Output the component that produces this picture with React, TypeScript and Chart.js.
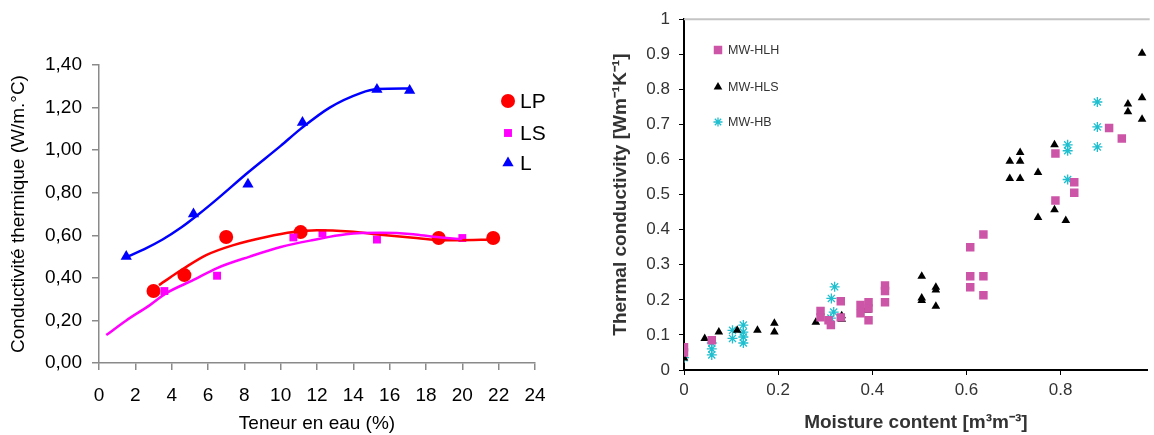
import React, { useEffect, useRef } from 'react';
import { Chart, registerables } from 'chart.js';

Chart.register(...registerables);

const FONT = "'Liberation Sans', Arial, sans-serif";

// ---------- Left chart data ----------
const LP_X = [3.0, 4.7, 7.0, 11.1, 18.7, 21.7];
const LP_Y = [0.338, 0.413, 0.592, 0.615, 0.587, 0.587];
const LS_X = [3.6, 6.5, 10.7, 12.3, 15.3, 20.0];
const LS_Y = [0.338, 0.41, 0.59, 0.61, 0.58, 0.587];
const L_X = [1.5, 5.2, 8.2, 11.2, 15.3, 17.1];
const L_Y = [0.5, 0.7, 0.84, 1.13, 1.285, 1.28];

const LP_FIT_X = [3.3, 4.7, 5.9, 7.4, 9.2, 10.7, 12.0, 13.8, 15.5, 17.3, 18.6, 19.7, 21.7];
const LP_FIT_Y = [0.366, 0.446, 0.507, 0.554, 0.592, 0.615, 0.624, 0.618, 0.603, 0.588, 0.578, 0.577, 0.58];
const LS_FIT_X = [0.4, 1.5, 2.8, 3.7, 5.2, 6.5, 8.3, 10.0, 11.8, 13.6, 15.5, 17.3, 18.4, 20.0];
const LS_FIT_Y = [0.131, 0.2, 0.272, 0.328, 0.39, 0.446, 0.5, 0.545, 0.578, 0.605, 0.612, 0.605, 0.593, 0.582];
const L_FIT_X = [1.5, 2.5, 3.5, 4.5, 5.5, 6.5, 8.2, 10.0, 11.1, 12.7, 14.4, 15.3, 17.1];
const L_FIT_Y = [0.497, 0.535, 0.58, 0.635, 0.7, 0.77, 0.895, 1.02, 1.1, 1.2, 1.268, 1.287, 1.29];

const LEFT_X_TICKS = { min: 0, max: 24, step: 2 };
const LEFT_Y_TICKS = { min: 0, max: 1.4, step: 0.2 };
const LEFT_LEGEND = ['LP', 'LS', 'L'];

// ---------- Right chart data ----------
const HLH_X = [0.0, 0.0, 0.059, 0.29, 0.29, 0.307, 0.312, 0.333, 0.333, 0.375, 0.375, 0.392, 0.392, 0.392, 0.427, 0.427, 0.427, 0.608, 0.636, 0.608, 0.636, 0.608, 0.636, 0.903, 0.93, 0.789, 0.829, 0.829, 0.789];
const HLH_Y = [0.065, 0.05, 0.085, 0.168, 0.15, 0.142, 0.128, 0.196, 0.15, 0.185, 0.162, 0.193, 0.175, 0.142, 0.241, 0.225, 0.193, 0.35, 0.386, 0.267, 0.267, 0.236, 0.213, 0.69, 0.66, 0.617, 0.535, 0.505, 0.483];
const HLS_X = [0.0, 0.044, 0.074, 0.113, 0.156, 0.192, 0.192, 0.28, 0.335, 0.335, 0.39, 0.39, 0.505, 0.535, 0.535, 0.505, 0.505, 0.535, 0.973, 0.973, 0.943, 0.943, 0.973, 0.714, 0.692, 0.714, 0.692, 0.714, 0.752, 0.787, 0.752, 0.787, 0.811];
const HLS_Y = [0.034, 0.09, 0.108, 0.113, 0.113, 0.133, 0.108, 0.136, 0.155, 0.145, 0.178, 0.17, 0.267, 0.236, 0.228, 0.205, 0.198, 0.182, 0.903, 0.776, 0.758, 0.736, 0.715, 0.62, 0.595, 0.595, 0.546, 0.546, 0.563, 0.642, 0.435, 0.457, 0.426];
const HB_X = [0.0, 0.059, 0.059, 0.059, 0.103, 0.103, 0.126, 0.126, 0.126, 0.126, 0.32, 0.313, 0.318, 0.312, 0.878, 0.878, 0.878, 0.815, 0.815, 0.815];
const HB_Y = [0.035, 0.077, 0.06, 0.043, 0.113, 0.09, 0.128, 0.108, 0.094, 0.077, 0.237, 0.204, 0.165, 0.148, 0.764, 0.693, 0.636, 0.642, 0.625, 0.543];

const RIGHT_X_TICKS = { min: 0, max: 0.985, step: 0.2 };
const RIGHT_Y_TICKS = { min: 0, max: 1, step: 0.1 };
const RIGHT_LEGEND = ['MW-HLH', 'MW-HLS', 'MW-HB'];

const pts = (xs: number[], ys: number[]) => xs.map((x, i) => ({ x, y: ys[i] }));

function drawMarker(ctx: CanvasRenderingContext2D, style: string, x: number, y: number, r: number, color: string) {
  ctx.save();
  ctx.fillStyle = color;
  ctx.strokeStyle = color;
  ctx.beginPath();
  if (style === 'circle') {
    ctx.arc(x, y, r, 0, Math.PI * 2);
    ctx.fill();
  } else if (style === 'rect') {
    const s = r * Math.SQRT1_2;
    ctx.rect(x - s, y - s, 2 * s, 2 * s);
    ctx.fill();
  } else if (style === 'triangle') {
    ctx.moveTo(x, y - r);
    ctx.lineTo(x + r * 0.866, y + r / 2);
    ctx.lineTo(x - r * 0.866, y + r / 2);
    ctx.closePath();
    ctx.fill();
  } else if (style === 'star') {
    ctx.lineWidth = 1.3;
    for (let k = 0; k < 4; k++) {
      const a = (k * Math.PI) / 4;
      ctx.moveTo(x + Math.cos(a) * r, y + Math.sin(a) * r);
      ctx.lineTo(x - Math.cos(a) * r, y - Math.sin(a) * r);
    }
    ctx.stroke();
  }
  ctx.restore();
}

const leftLegendPlugin = {
  id: 'leftLegend',
  afterDraw(chart: any) {
    const ctx = chart.ctx;
    const styles = [
      { s: 'circle', c: '#ff0000', r: 7 },
      { s: 'rect', c: '#ff00ff', r: 5.6 },
      { s: 'triangle', c: '#0000ff', r: 6.5 },
    ];
    const ys = [101, 133, 163];
    ctx.save();
    ctx.font = `21px ${FONT}`;
    ctx.fillStyle = '#000';
    ctx.textBaseline = 'middle';
    LEFT_LEGEND.forEach((t, i) => {
      drawMarker(ctx, styles[i].s, 508, ys[i], styles[i].r, styles[i].c);
      ctx.fillText(t, 520, ys[i] + 1);
    });
    ctx.restore();
  },
};

const rightLegendPlugin = {
  id: 'rightLegend',
  afterDraw(chart: any) {
    const ctx = chart.ctx;
    const styles = [
      { s: 'rect', c: '#cc55a8', r: 6 },
      { s: 'triangle', c: '#000000', r: 5 },
      { s: 'star', c: '#1fbfcf', r: 4.5 },
    ];
    const ys = [50, 87, 122];
    ctx.save();
    ctx.font = `12.5px ${FONT}`;
    ctx.fillStyle = '#333';
    ctx.textBaseline = 'middle';
    RIGHT_LEGEND.forEach((t, i) => {
      drawMarker(ctx, styles[i].s, 143, ys[i], styles[i].r, styles[i].c);
      ctx.fillText(t, 153, ys[i] + 1);
    });
    // top border of plot frame
    const a = chart.chartArea;
    ctx.strokeStyle = '#c4c4c4';
    ctx.lineWidth = 2;
    ctx.beginPath();
    ctx.moveTo(a.left, a.top);
    ctx.lineTo(a.right + 2, a.top);
    ctx.stroke();
    ctx.restore();
  },
};

function LeftChart() {
  const ref = useRef<HTMLCanvasElement>(null);
  useEffect(() => {
    const fitLine = (xs: number[], ys: number[], color: string) => ({
      type: 'line' as const,
      data: pts(xs, ys),
      borderColor: color,
      backgroundColor: color,
      borderWidth: 2.5,
      pointRadius: 0,
      showLine: true,
      fill: false,
      cubicInterpolationMode: 'monotone' as const,
    });
    const chart = new Chart(ref.current!, {
      type: 'scatter',
      data: {
        datasets: [
          fitLine(LS_FIT_X, LS_FIT_Y, '#ff00ff'),
          fitLine(LP_FIT_X, LP_FIT_Y, '#ff0000'),
          fitLine(L_FIT_X, L_FIT_Y, '#0000ff'),
          { label: 'LS', data: pts(LS_X, LS_Y), pointStyle: 'rect', pointRadius: 5.6, backgroundColor: '#ff00ff', borderColor: '#ff00ff', borderWidth: 0 },
          { label: 'LP', data: pts(LP_X, LP_Y), pointStyle: 'circle', pointRadius: 7, backgroundColor: '#ff0000', borderColor: '#ff0000', borderWidth: 0 },
          { label: 'L', data: pts(L_X, L_Y), pointStyle: 'triangle', pointRadius: 6.5, backgroundColor: '#0000ff', borderColor: '#0000ff', borderWidth: 0 },
        ] as any,
      },
      options: {
        responsive: false,
        animation: false,
        layout: { padding: { top: 65, right: 40, bottom: 0, left: 0 } },
        plugins: { legend: { display: false }, tooltip: { enabled: false } },
        scales: {
          x: {
            type: 'linear',
            min: LEFT_X_TICKS.min,
            max: LEFT_X_TICKS.max,
            ticks: { stepSize: LEFT_X_TICKS.step, color: '#000', font: { family: FONT, size: 19 }, padding: 14, maxRotation: 0, autoSkip: false },
            grid: { drawOnChartArea: false, tickLength: 7, color: '#8a8a8a', lineWidth: 1.5 },
            border: { color: '#8a8a8a', width: 1.5 },
            title: { display: true, text: 'Teneur en eau (%)', color: '#000', font: { family: FONT, size: 19 }, padding: { top: 0, bottom: 0 } },
            afterFit: (s: any) => { s.height = 72; },
          },
          y: {
            type: 'linear',
            min: LEFT_Y_TICKS.min,
            max: LEFT_Y_TICKS.max,
            ticks: {
              stepSize: LEFT_Y_TICKS.step,
              color: '#000',
              font: { family: FONT, size: 19 },
              padding: 10,
              callback: (v: any) => Number(v).toFixed(2).replace('.', ','),
            },
            grid: { drawOnChartArea: false, tickLength: 7, color: '#8a8a8a', lineWidth: 1.5 },
            border: { color: '#8a8a8a', width: 1.5 },
            title: { display: true, text: 'Conductivité thermique (W/m.°C)', color: '#000', font: { family: FONT, size: 19 }, padding: { top: 7, bottom: 0 } },
            afterFit: (s: any) => { s.width = 99; },
          },
        },
      } as any,
      plugins: [leftLegendPlugin],
    });
    return () => chart.destroy();
  }, []);
  return <canvas ref={ref} width={575} height={435} />;
}

function RightChart() {
  const ref = useRef<HTMLCanvasElement>(null);
  useEffect(() => {
    const chart = new Chart(ref.current!, {
      type: 'scatter',
      data: {
        datasets: [
          { label: 'MW-HLH', data: pts(HLH_X, HLH_Y), pointStyle: 'rect', pointRadius: 6, backgroundColor: '#cc55a8', borderColor: '#cc55a8', borderWidth: 0 },
          { label: 'MW-HLS', data: pts(HLS_X, HLS_Y), pointStyle: 'triangle', pointRadius: 5, backgroundColor: '#000', borderColor: '#000', borderWidth: 0 },
          { label: 'MW-HB', data: pts(HB_X, HB_Y), pointStyle: 'star', pointRadius: 5, backgroundColor: '#1fbfcf', borderColor: '#1fbfcf', borderWidth: 1.3 },
        ] as any,
      },
      options: {
        responsive: false,
        animation: false,
        layout: { padding: { top: 18, right: 0, bottom: 0, left: 0 } },
        plugins: { legend: { display: false }, tooltip: { enabled: false } },
        scales: {
          x: {
            type: 'linear',
            min: RIGHT_X_TICKS.min,
            max: RIGHT_X_TICKS.max,
            afterBuildTicks: (s: any) => {
              s.ticks = s.ticks.filter((t: any) => Math.abs(t.value / RIGHT_X_TICKS.step - Math.round(t.value / RIGHT_X_TICKS.step)) < 1e-6);
            },
            ticks: {
              stepSize: RIGHT_X_TICKS.step,
              color: '#333',
              font: { family: FONT, size: 17 },
              padding: 5,
              maxRotation: 0,
              autoSkip: false,
              callback: (v: any) => (Number(v) === 0 ? '0' : Number(v).toFixed(1)),
            },
            grid: { drawOnChartArea: false, tickLength: 5, color: '#000', lineWidth: 1 },
            border: { color: '#000', width: 2 },
            title: { display: true, text: 'Moisture content [m³m⁻³]', color: '#333', font: { family: FONT, size: 19, weight: 'bold' }, padding: { top: 0, bottom: 1 } },
            afterFit: (s: any) => { s.height = 65; },
          },
          y: {
            type: 'linear',
            min: RIGHT_Y_TICKS.min,
            max: RIGHT_Y_TICKS.max,
            ticks: {
              stepSize: RIGHT_Y_TICKS.step,
              color: '#333',
              font: { family: FONT, size: 17 },
              padding: 9,
              callback: (v: any) => {
                const n = Number(v);
                return n === 0 ? '0' : Math.abs(n - 1) < 1e-9 ? '1' : n.toFixed(1);
              },
            },
            grid: { drawOnChartArea: false, tickLength: 5, color: '#000', lineWidth: 1 },
            border: { color: '#000', width: 2 },
            title: { display: true, text: 'Thermal conductivity [Wm⁻¹K⁻¹]', color: '#333', font: { family: FONT, size: 19, weight: 'bold' }, padding: { top: 34, bottom: 0 } },
            afterFit: (s: any) => { s.width = 109; },
          },
        },
      } as any,
      plugins: [rightLegendPlugin],
    });
    return () => chart.destroy();
  }, []);
  return <canvas ref={ref} width={579} height={435} />;
}

export default function App() {
  return (
    <div style={{ position: 'absolute', left: 0, top: 0, width: 1154, height: 435, background: '#fff', overflow: 'hidden' }}>
      <div style={{ position: 'absolute', left: 0, top: 0, width: 575, height: 435 }}>
        <LeftChart />
      </div>
      <div style={{ position: 'absolute', left: 575, top: 0, width: 579, height: 435 }}>
        <RightChart />
      </div>
    </div>
  );
}
